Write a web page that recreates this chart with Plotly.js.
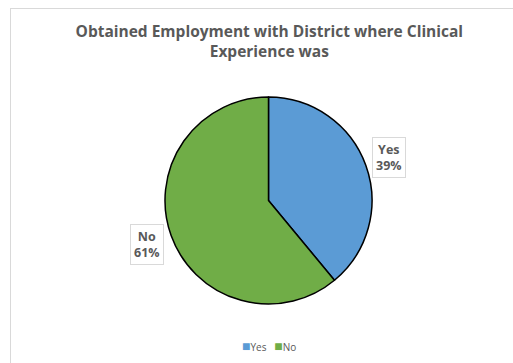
<!DOCTYPE html>
<html><head><meta charset="utf-8">
<script src="https://cdn.plot.ly/plotly-3.0.1.min.js"></script>
<style>
html,body{margin:0;padding:0;background:#fff;overflow:hidden;}
#frame{position:absolute;left:10px;top:8px;width:560px;height:400px;border:1px solid #d9d9d9;box-sizing:border-box;pointer-events:none;z-index:5;}
#chart{width:513px;height:363px;}
</style></head>
<body>
<div id="chart"></div>
<div id="frame"></div>
<script>
const categories = ["Yes", "No"];
const values = [39, 61];
const colors = ["#5B9BD5", "#70AD47"];
const titleText = "Obtained Employment with District where Clinical<br>Experience was";

const W = 513, H = 363;
const cx = 268.5, cy = 200.5, r = 103.5;

const trace = {
  type: "pie",
  labels: categories,
  values: values,
  sort: false,
  direction: "clockwise",
  rotation: 0,
  textinfo: "none",
  hoverinfo: "none",
  showlegend: false,
  marker: {colors: colors, line: {color: "#000000", width: 1.5}},
  domain: {x: [(cx - r) / W, (cx + r) / W], y: [1 - (cy + r) / H, 1 - (cy - r) / H]}
};

const labelPos = [{x: 389, y: 158}, {x: 147, y: 244}];
const annotations = categories.map((c, i) => ({
  xref: "paper", yref: "paper",
  x: labelPos[i].x / W, y: 1 - labelPos[i].y / H,
  xanchor: "center", yanchor: "middle",
  text: "<b>" + c + "<br>" + values[i] + "%</b>",
  showarrow: false,
  font: {family: "Open Sans, sans-serif", size: 12.5, color: "#595959"},
  bgcolor: "#ffffff", bordercolor: "#d9d9d9", borderwidth: 1, borderpad: 3
}));

// legend built as a single annotation line from the category arrays
const legendText = categories.map((c, i) =>
  '<span style="color:' + colors[i] + ';font-size:14px">■</span>' + c).join("\u00a0\u00a0\u00a0");
annotations.push({
  xref: "paper", yref: "paper",
  x: 268.5 / W, y: 1 - 345 / H, xanchor: "center", yanchor: "middle",
  text: legendText, showarrow: false,
  font: {family: "Open Sans, sans-serif", size: 10, color: "#595959"}
});

const layout = {
  width: W, height: H,
  margin: {l: 0, r: 0, t: 0, b: 0},
  paper_bgcolor: "#ffffff",
  title: {
    text: "<b>" + titleText + "</b>",
    font: {family: "Open Sans, sans-serif", size: 15.5, color: "#595959"},
    x: 0.525, xanchor: "center", y: 1 - 37 / H, yanchor: "middle"
  },
  showlegend: false,
  annotations: annotations
};

Plotly.newPlot("chart", [trace], layout, {displayModeBar: false, staticPlot: true});
</script>
</body></html>
